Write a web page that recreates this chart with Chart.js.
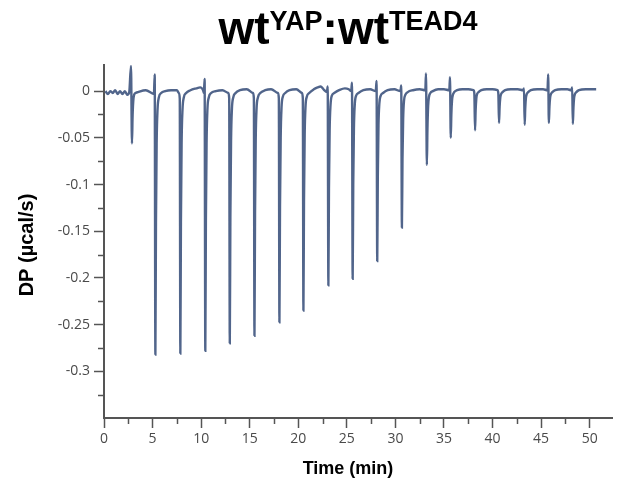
<!DOCTYPE html>
<html>
<head>
<meta charset="utf-8">
<title>wtYAP:wtTEAD4 ITC</title>
<script src="https://cdn.jsdelivr.net/npm/chart.js@4.4.1/dist/chart.umd.min.js"></script>
<style>
  html, body { margin: 0; padding: 0; background: #fff; }
  #itc { display: block; }
</style>
</head>
<body>
<canvas id="itc" width="619" height="492"></canvas>
<script>
// raw thermogram, one injection per line
const timeMin = [
  0.15, 0.4, 0.65, 0.9, 1.15, 1.4, 1.65, 1.9, 2.15, 2.4, 2.6,
  2.78, 2.88, 2.94, 3.01, 3.1, 3.25, 3.5, 4.3,
  5.14, 5.22, 5.29, 5.35, 5.42, 5.51, 5.64, 5.89, 6.3, 6.9, 7.5,
  7.71, 7.8, 7.86, 7.92, 7.99, 8.08, 8.21, 8.46, 8.9, 9.5, 9.9, 10.2,
  10.28, 10.36, 10.43, 10.49, 10.56, 10.65, 10.78, 11.03, 11.5, 12.2,
  12.8, 12.89, 12.95, 13.01, 13.08, 13.17, 13.3, 13.55, 14.0, 14.7,
  15.34, 15.43, 15.49, 15.55, 15.62, 15.71, 15.84, 16.09, 16.6, 17.2,
  17.91, 18.0, 18.06, 18.12, 18.19, 18.28, 18.41, 18.66, 19.1, 19.8,
  20.38, 20.47, 20.53, 20.59, 20.66, 20.75, 20.88, 21.13, 21.6, 22.0, 22.3, 22.6,
  22.95, 23.03, 23.1, 23.16, 23.23, 23.32, 23.45, 23.7, 24.2, 24.8, 25.2,
  25.45, 25.53, 25.6, 25.66, 25.73, 25.82, 25.95, 26.2, 26.7, 27.4,
  27.98, 28.06, 28.13, 28.19, 28.26, 28.35, 28.48, 28.73, 29.2, 29.9,
  30.52, 30.6, 30.67, 30.73, 30.8, 30.89, 31.02, 31.27, 31.8, 32.5,
  33.08, 33.15, 33.24, 33.3, 33.37, 33.46, 33.6, 33.85, 34.4, 35.0,
  35.55, 35.62, 35.7, 35.76, 35.83, 35.92, 36.06, 36.35, 36.9, 37.5,
  38.05, 38.13, 38.2, 38.26, 38.33, 38.42, 38.56, 38.85, 39.4, 40.0,
  40.52, 40.6, 40.67, 40.73, 40.8, 40.89, 41.03, 41.3, 41.9, 42.6,
  43.16, 43.24, 43.31, 43.37, 43.44, 43.53, 43.67, 43.95, 44.6, 45.2,
  45.66, 45.73, 45.8, 45.86, 45.93, 46.02, 46.16, 46.45, 47.1, 47.7,
  48.12, 48.2, 48.27, 48.33, 48.4, 48.49, 48.63, 48.9, 49.6, 50.2, 50.67
];
const dpSignal = [
  0.000, -0.003, 0.000, -0.002, 0.001, -0.003, 0.000, -0.003, 0.000, -0.004, -0.001,
  0.027, -0.056, -0.028, -0.011, -0.004, -0.002, -0.001, 0.001,
  -0.003, 0.018, -0.282, -0.141, -0.056, -0.020, -0.007, -0.002, 0.000, 0.001, 0.001,
  -0.002, -0.008, -0.281, -0.140, -0.056, -0.020, -0.007, -0.002, 0.001, 0.003, 0.004, 0.001,
  -0.002, 0.013, -0.278, -0.139, -0.056, -0.019, -0.007, -0.002, 0.000, 0.001,
  -0.002, -0.008, -0.270, -0.135, -0.054, -0.019, -0.007, -0.002, 0.001, 0.002,
  -0.002, -0.008, -0.262, -0.131, -0.052, -0.018, -0.007, -0.002, 0.001, 0.002,
  -0.002, -0.008, -0.2475, -0.124, -0.050, -0.017, -0.006, -0.002, 0.001, 0.002,
  -0.002, -0.008, -0.235, -0.118, -0.047, -0.016, -0.006, -0.002, 0.002, 0.004, 0.005, 0.002,
  -0.001, 0.005, -0.208, -0.104, -0.042, -0.015, -0.005, -0.002, 0.001, 0.003, 0.002,
  0.000, 0.009, -0.201, -0.100, -0.040, -0.014, -0.005, -0.002, 0.001, 0.002,
  0.000, 0.011, -0.182, -0.091, -0.036, -0.013, -0.005, -0.002, 0.001, 0.002,
  0.000, 0.006, -0.146, -0.073, -0.029, -0.010, -0.004, -0.001, 0.001, 0.002,
  0.001, 0.019, -0.079, -0.040, -0.016, -0.006, -0.002, 0.000, 0.002, 0.002,
  0.001, 0.015, -0.050, -0.025, -0.010, -0.004, -0.001, 0.001, 0.002, 0.002,
  0.001, -0.003, -0.042, -0.021, -0.008, -0.003, -0.001, 0.001, 0.002, 0.002,
  0.001, -0.003, -0.034, -0.017, -0.007, -0.003, -0.001, 0.001, 0.002, 0.002,
  0.001, 0.003, -0.036, -0.018, -0.007, -0.003, -0.001, 0.001, 0.002, 0.002,
  0.001, 0.018, -0.034, -0.017, -0.007, -0.003, -0.001, 0.001, 0.002, 0.002,
  0.001, 0.004, -0.035, -0.018, -0.007, -0.003, -0.001, 0.001, 0.002, 0.002, 0.002
];

const xMajor = [0, 5, 10, 15, 20, 25, 30, 35, 40, 45, 50];
const xMinor = [2.5, 7.5, 12.5, 17.5, 22.5, 27.5, 32.5, 37.5, 42.5, 47.5];
const yMajor = [0, -0.05, -0.1, -0.15, -0.2, -0.25, -0.3];
const yMinor = [-0.025, -0.075, -0.125, -0.175, -0.225, -0.275, -0.325];

const titleParts = [
  { text: 'wt', sup: false },
  { text: 'YAP', sup: true },
  { text: ':wt', sup: false },
  { text: 'TEAD4', sup: true }
];
const xTitle = 'Time (min)';
const yTitle = 'DP (µcal/s)';

const axisColor = '#555555';
const traceColor = '#51658b';

const points = timeMin.map((t, i) => ({ x: t, y: dpSignal[i] }));

// titles, superscripts and minor ticks
const decorPlugin = {
  id: 'decor',
  afterDraw(chart) {
    const ctx = chart.ctx;
    const area = chart.chartArea;
    const xs = chart.scales.x;
    const ys = chart.scales.y;

    ctx.save();
    ctx.strokeStyle = axisColor;
    ctx.lineWidth = 1.5;
    xMinor.forEach(v => {
      const px = Math.round(xs.getPixelForValue(v)) + 0.5;
      ctx.beginPath();
      ctx.moveTo(px, area.bottom);
      ctx.lineTo(px, area.bottom + 6);
      ctx.stroke();
    });
    yMinor.forEach(v => {
      const py = Math.round(ys.getPixelForValue(v)) + 0.5;
      ctx.beginPath();
      ctx.moveTo(area.left - 6, py);
      ctx.lineTo(area.left, py);
      ctx.stroke();
    });

    // main title with superscripts
    const bigFont = 'bold 46px "Liberation Sans", Arial, sans-serif';
    const supFont = 'bold 27px "Liberation Sans", Arial, sans-serif';
    let total = 0;
    const widths = titleParts.map(p => {
      ctx.font = p.sup ? supFont : bigFont;
      const w = ctx.measureText(p.text).width;
      total += w;
      return w;
    });
    let cx = 348 - total / 2;
    ctx.fillStyle = '#000';
    ctx.textBaseline = 'alphabetic';
    ctx.textAlign = 'left';
    titleParts.forEach((p, i) => {
      ctx.font = p.sup ? supFont : bigFont;
      ctx.fillText(p.text, cx, p.sup ? 30 : 44);
      cx += widths[i];
    });

    // axis titles
    ctx.font = 'bold 18px "Liberation Sans", Arial, sans-serif';
    ctx.textAlign = 'center';
    ctx.fillText(xTitle, 348, 474);

    ctx.save();
    ctx.translate(33, 245);
    ctx.rotate(-Math.PI / 2);
    ctx.font = 'bold 20px "Liberation Sans", Arial, sans-serif';
    ctx.fillText(yTitle, 0, 0);
    ctx.restore();

    ctx.restore();
  }
};

const fmt = v => String(parseFloat(v.toFixed(3)));

new Chart(document.getElementById('itc'), {
  type: 'line',
  data: {
    datasets: [{
      label: 'DP',
      data: points,
      borderColor: traceColor,
      borderWidth: 2.4,
      pointRadius: 0,
      fill: false,
      cubicInterpolationMode: 'monotone'
    }]
  },
  options: {
    responsive: false,
    animation: false,
    events: [],
    layout: { padding: { top: 65, right: 7, left: 0, bottom: 0 } },
    plugins: {
      legend: { display: false },
      tooltip: { enabled: false },
      title: { display: false }
    },
    scales: {
      x: {
        type: 'linear',
        min: 0,
        max: 52.3,
        afterFit(scale) { scale.height = 74; },
        border: { display: true, color: axisColor, width: 2 },
        grid: { drawOnChartArea: false, drawTicks: true, tickLength: 10, tickColor: axisColor, tickWidth: 1.5 },
        ticks: {
          stepSize: 5,
          includeBounds: false,
          padding: 3,
          color: '#4a4a4a',
          font: { family: '"Open Sans", sans-serif', size: 14 },
          callback: v => (xMajor.includes(v) ? String(v) : '')
        }
      },
      y: {
        type: 'linear',
        min: -0.35,
        max: 0.028,
        afterFit(scale) { scale.width = 104; },
        border: { display: true, color: axisColor, width: 2 },
        grid: { drawOnChartArea: false, drawTicks: true, tickLength: 10, tickColor: axisColor, tickWidth: 1.5 },
        ticks: {
          stepSize: 0.05,
          includeBounds: false,
          padding: 4,
          color: '#4a4a4a',
          font: { family: '"Open Sans", sans-serif', size: 14 },
          callback: v => {
            const r = parseFloat(v.toFixed(3));
            return yMajor.includes(r) ? fmt(v) : '';
          }
        }
      }
    }
  },
  plugins: [decorPlugin]
});
</script>
</body>
</html>
